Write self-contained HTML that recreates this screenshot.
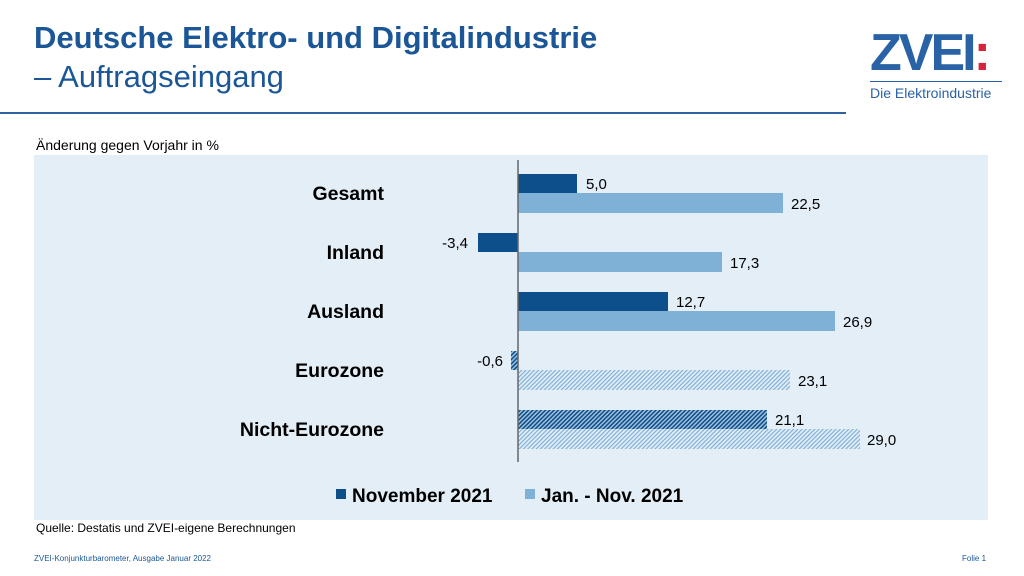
<!DOCTYPE html><html><head><meta charset="utf-8"><style>
body{margin:0;width:1024px;height:576px;background:#fff;font-family:"Liberation Sans",sans-serif;position:relative;overflow:hidden}
.a{position:absolute;white-space:nowrap}
</style></head><body>
<div class="a" style="left:34px;top:20px;font-size:31px;font-weight:bold;color:#1b5797">Deutsche Elektro- und Digitalindustrie</div>
<div class="a" style="left:34px;top:59px;font-size:31px;color:#1b5797">– Auftragseingang</div>
<div class="a" style="left:0;top:112px;width:846px;height:2px;background:#2a63a0"></div>
<div class="a" style="left:870px;top:28px;font-size:52px;font-weight:bold;color:#2a62a6;letter-spacing:-3px;line-height:50px">ZVEI<span style="color:#d5243b">:</span></div>
<div class="a" style="left:870px;top:81px;width:132px;height:1px;background:#2a62a6"></div>
<div class="a" style="left:870px;top:85px;font-size:14px;color:#2a62a6">Die Elektroindustrie</div>
<div class="a" style="left:36px;top:137px;font-size:14px;color:#000">Änderung gegen Vorjahr in %</div>
<div class="a" style="left:34px;top:155px;width:954px;height:365px;background:#e3eef6"></div>
<svg class="a" style="left:0;top:0" width="1024" height="576">
<defs>
<pattern id="hd" width="3" height="3" patternUnits="userSpaceOnUse" patternTransform="rotate(45)"><rect width="3" height="3" fill="#a9c6e0"/><rect width="1.6" height="3" fill="#0d4f8b"/></pattern>
<pattern id="hl" width="3" height="3" patternUnits="userSpaceOnUse" patternTransform="rotate(45)"><rect width="3" height="3" fill="#e3eef6"/><rect width="1.2" height="3" fill="#7fb0d6"/></pattern>
</defs>
<g font-family="Liberation Sans" font-size="15" fill="#000">
<rect x="518" y="174" width="59" height="19" fill="#0d4f8b"/><rect x="518" y="193" width="265" height="20" fill="#7fb0d6"/>
<text x="586" y="189">5,0</text><text x="791" y="209">22,5</text>
<rect x="478" y="233" width="40" height="19" fill="#0d4f8b"/><rect x="518" y="252" width="204" height="20" fill="#7fb0d6"/>
<text x="468" y="248" text-anchor="end">-3,4</text><text x="730" y="268">17,3</text>
<rect x="518" y="292" width="150" height="19" fill="#0d4f8b"/><rect x="518" y="311" width="317" height="20" fill="#7fb0d6"/>
<text x="676" y="307">12,7</text><text x="843" y="327">26,9</text>
<rect x="511" y="351" width="7" height="19" fill="url(#hd)"/><rect x="518" y="370" width="272" height="20" fill="url(#hl)"/>
<text x="503" y="366" text-anchor="end">-0,6</text><text x="798" y="386">23,1</text>
<rect x="518" y="410" width="249" height="19" fill="url(#hd)"/><rect x="518" y="429" width="342" height="20" fill="url(#hl)"/>
<text x="775" y="425">21,1</text><text x="867" y="445">29,0</text>
<line x1="518" y1="160" x2="518" y2="462" stroke="#666" stroke-width="1.5"/>
<g font-weight="bold" font-size="19.5" text-anchor="end">
<text x="384" y="200">Gesamt</text><text x="384" y="259">Inland</text><text x="384" y="318">Ausland</text><text x="384" y="377">Eurozone</text><text x="384" y="436">Nicht-Eurozone</text>
</g>
<rect x="336" y="489" width="10" height="10" fill="#0d4f8b"/><text x="352" y="502" font-weight="bold" font-size="19">November 2021</text>
<rect x="525" y="489" width="10" height="10" fill="#7fb0d6"/><text x="541" y="502" font-weight="bold" font-size="19">Jan. - Nov. 2021</text>
</g>
</svg>
<div class="a" style="left:36px;top:521px;font-size:12px;color:#000">Quelle: Destatis und ZVEI-eigene Berechnungen</div>
<div class="a" style="left:34px;top:554px;font-size:8px;color:#1b5797">ZVEI-Konjunkturbarometer, Ausgabe Januar 2022</div>
<div class="a" style="left:962px;top:554px;font-size:8px;color:#1b5797">Folie 1</div>
</body></html>
